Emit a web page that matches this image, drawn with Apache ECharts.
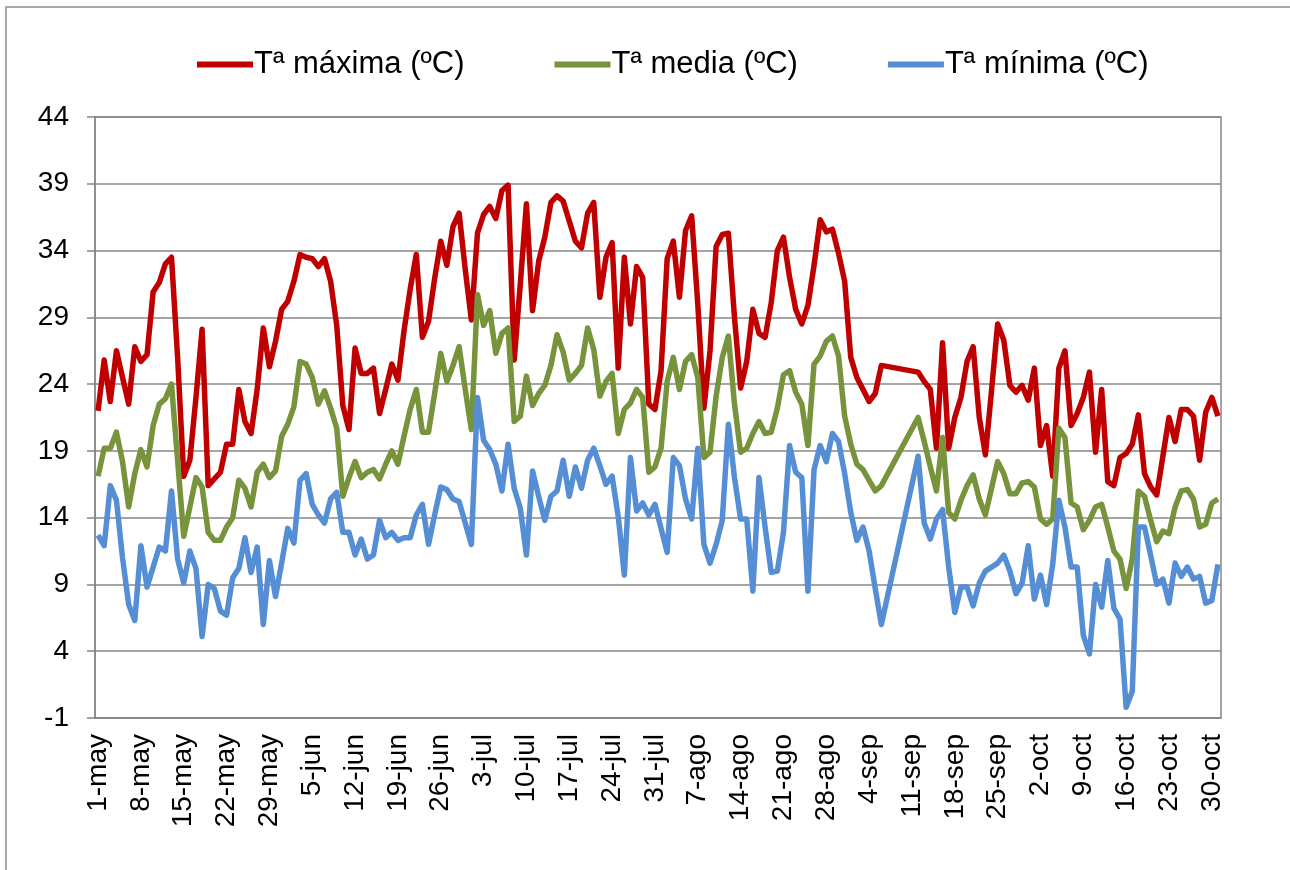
<!DOCTYPE html>
<html>
<head>
<meta charset="utf-8">
<script src="https://cdn.jsdelivr.net/npm/echarts@6/dist/echarts.min.js"></script>
<style>
  html, body { margin: 0; padding: 0; background: #fff; }
  #chart { width: 1290px; height: 870px; }
</style>
</head>
<body>
<div id="chart"></div>
<script>
// months of the period, for the category labels (1-may .. 31-oct)
const months = [["may", 31], ["jun", 30], ["jul", 31], ["ago", 31], ["sep", 30], ["oct", 31]];
const days = [];
months.forEach(([m, n]) => {
  for (let d = 1; d <= n; d++) days.push(d + "-" + m);
});

const yTicks = [-1, 4, 9, 14, 19, 24, 29, 34, 39, 44];

// daily values; null = no data (the line is joined across)
const tMax = [
  22.0, 25.8, 22.7, 26.5, 24.5, 22.5, 26.8, 25.7, 26.2, 30.9,
  31.6, 33.0, 33.5, 26.0, 17.1, 18.3, 23.0, 28.1, 16.4, 16.9,
  17.4, 19.5, 19.5, 23.6, 21.2, 20.3, 23.6, 28.2, 25.3, 27.2,
  29.6, 30.2, 31.7, 33.7, 33.5, 33.4, 32.8, 33.4, 31.7, 28.4,
  22.4, 20.6, 26.7, 24.8, 24.8, 25.2, 21.8, 23.6, 25.5, 24.3,
  28.0, 31.1, 33.7, 27.5, 28.7, 31.9, 34.7, 32.9, 35.8, 36.8,
  32.6, 28.8, 35.3, 36.7, 37.3, 36.4, 38.5, 38.9, 25.8, 31.5,
  37.5, 29.5, 33.2, 35.0, 37.6, 38.1, 37.7, 36.2, 34.7, 34.2,
  36.8, 37.6, 30.5, 33.5, 34.6, 25.2, 33.5, 28.5, 32.8, 32.0,
  22.5, 22.1, 25.0, 33.4, 34.7, 30.5, 35.5, 36.6, 30.0, 22.2,
  26.5, 34.3, 35.2, 35.3, 29.0, 23.7, 25.7, 29.6, 27.8, 27.5,
  30.1, 34.0, 35.0, 32.0, 29.6, 28.5, 29.9, 32.9, 36.3, 35.4,
  35.6, 33.8, 31.7, 26.0, 24.5, 23.6, 22.7, 23.3, 25.4, null,
  null, null, null, null, 24.9, 24.2, 23.6, 19.2, 27.1, 19.2,
  21.5, 23.0, 25.7, 26.8, 21.5, 18.7, 23.5, 28.5, 27.3, 23.9,
  23.4, 23.9, 22.8, 25.2, 19.4, 20.9, 17.1, 25.2, 26.5, 20.9,
  21.8, 23.0, 24.9, 18.9, 23.6, 16.7, 16.4, 18.5, 18.8, 19.5,
  21.7, 17.3, 16.3, 15.7, 18.6, 21.5, 19.7, 22.1, 22.1, 21.6,
  18.3, 21.9, 23.0, 21.6
];

const tMed = [
  17.1, 19.2, 19.2, 20.4, 18.2, 14.8, 17.3, 19.1, 17.8, 20.9,
  22.5, 22.9, 24.0, 18.3, 12.6, 14.8, 17.0, 16.3, 12.9, 12.3,
  12.3, 13.3, 14.0, 16.8, 16.2, 14.8, 17.4, 18.0, 17.0, 17.5,
  20.1, 21.0, 22.3, 25.7, 25.5, 24.5, 22.5, 23.5, 22.2, 20.7,
  15.6, 17.0, 18.2, 17.0, 17.4, 17.6, 16.9, 18.0, 19.0, 18.0,
  20.1, 22.1, 23.6, 20.4, 20.4, 23.3, 26.3, 24.2, 25.4, 26.8,
  23.6, 20.6, 30.7, 28.4, 29.5, 26.3, 27.8, 28.2, 21.2, 21.6,
  24.6, 22.4, 23.3, 23.9, 25.4, 27.7, 26.4, 24.3, 24.8, 25.4,
  28.2, 26.6, 23.1, 24.2, 24.8, 20.3, 22.1, 22.6, 23.6, 23.0,
  17.4, 17.8, 19.2, 24.2, 26.0, 23.6, 25.7, 26.2, 24.5, 18.5,
  18.9, 23.1, 26.0, 27.6, 22.5, 18.9, 19.2, 20.3, 21.2, 20.3,
  20.4, 22.2, 24.7, 25.0, 23.4, 22.5, 19.4, 25.5, 26.1, 27.2,
  27.6, 26.1, 21.6, 19.5, 18.0, 17.6, 16.8, 16.0, 16.4, null,
  null, null, null, null, 21.5, 19.7, 17.8, 16.0, 20.0, 14.4,
  13.9, 15.3, 16.4, 17.2, 15.4, 14.2, 16.2, 18.2, 17.3, 15.8,
  15.8, 16.6, 16.7, 16.3, 13.9, 13.5, 13.9, 20.7, 20.0, 15.1,
  14.8, 13.1, 13.8, 14.8, 15.0, 13.3, 11.5, 10.9, 8.7, 10.9,
  16.0, 15.6, 13.8, 12.2, 13.0, 12.8, 14.8, 16.0, 16.1, 15.4,
  13.3, 13.5, 15.1, 15.4
];

const tMin = [
  12.7, 11.9, 16.4, 15.3, 11.0, 7.5, 6.3, 11.9, 8.8, 10.3,
  11.8, 11.5, 16.0, 10.9, 9.1, 11.5, 10.2, 5.1, 9.0, 8.7,
  7.0, 6.7, 9.5, 10.2, 12.5, 9.9, 11.8, 6.0, 10.8, 8.1,
  10.6, 13.2, 12.1, 16.8, 17.3, 15.0, 14.2, 13.6, 15.4, 15.9,
  12.9, 12.9, 11.2, 12.4, 10.9, 11.2, 13.8, 12.5, 12.9, 12.3,
  12.5, 12.5, 14.2, 15.0, 12.0, 14.2, 16.3, 16.1, 15.4, 15.2,
  13.6, 12.0, 23.0, 19.8, 19.1, 18.0, 16.0, 19.5, 16.2, 14.7,
  11.2, 17.5, 15.6, 13.8, 15.6, 16.0, 18.3, 15.6, 17.8, 16.2,
  18.3, 19.2, 17.9, 16.5, 17.1, 14.1, 9.7, 18.5, 14.5, 15.1,
  14.2, 15.0, 13.2, 11.4, 18.5, 17.9, 15.4, 13.9, 19.2, 12.0,
  10.6, 12.0, 13.8, 21.0, 17.0, 13.9, 13.9, 8.5, 17.0, 13.3,
  9.9, 10.0, 12.9, 19.4, 17.4, 17.0, 8.5, 17.6, 19.4, 18.2,
  20.3, 19.7, 17.3, 14.4, 12.3, 13.3, 11.5, 8.7, 6.0, null,
  null, null, null, null, 18.6, 13.6, 12.4, 13.9, 14.6, 10.3,
  6.9, 8.8, 8.8, 7.4, 9.1, 10.0, 10.3, 10.6, 11.2, 10.0,
  8.3, 9.1, 11.9, 7.9, 9.7, 7.5, 10.5, 15.3, 13.3, 10.3,
  10.3, 5.2, 3.8, 9.0, 7.3, 10.8, 7.2, 6.4, -0.2, 1.0,
  13.3, 13.3, 11.2, 9.0, 9.4, 7.6, 10.6, 9.6, 10.3, 9.4,
  9.6, 7.6, 7.8, 10.5
];

const font = "'Liberation Sans', Arial, sans-serif";
const gridGray = "#878787";

var chartDom = document.getElementById("chart");
var myChart = echarts.init(chartDom);
var option;

function lineSeries(name, data, color) {
  return {
    name: name,
    type: "line",
    data: data,
    connectNulls: true,
    showSymbol: false,
    symbol: "none",
    animation: false,
    lineStyle: { color: color, width: 5.5, join: "round" },
    itemStyle: { color: color },
  };
}

option = {
  animation: false,
  graphic: [
    {
      type: "rect",
      shape: { x: 6, y: 7, width: 1320, height: 900 },
      style: { fill: "none", stroke: "#8e8e8e", lineWidth: 1.5 },
      silent: true,
    },
  ],
  legend: {
    left: 192,
    top: 44,
    itemWidth: 56,
    itemHeight: 6,
    itemGap: 90,
    icon: "rect",
    textStyle: { fontFamily: font, fontSize: 31, color: "#000", padding: [0, 0, 0, -4] },
  },
  grid: {
    left: 95,
    right: 69,
    top: 117,
    bottom: 152,
    show: true,
    borderColor: gridGray,
    borderWidth: 1.5,
  },
  xAxis: {
    type: "category",
    data: days,
    boundaryGap: true,
    axisLine: { onZero: false, lineStyle: { color: gridGray, width: 1.5 } },
    axisTick: { interval: 6, length: 6, lineStyle: { color: gridGray, width: 1.5 } },
    axisLabel: {
      interval: 6,
      rotate: 90,
      margin: 16,
      fontFamily: font,
      fontSize: 28,
      color: "#000",
    },
    splitLine: { show: false },
  },
  yAxis: {
    type: "value",
    min: -1,
    max: 44,
    axisLine: { show: true, lineStyle: { color: gridGray, width: 1.5 } },
    axisTick: { show: true, customValues: yTicks, length: 8, lineStyle: { color: gridGray, width: 1.5 } },
    axisLabel: {
      customValues: yTicks,
      margin: 26,
      fontFamily: font,
      fontSize: 28,
      color: "#000",
    },
    splitLine: { show: true, lineStyle: { color: gridGray, width: 1.5 } },
  },
  series: [
    lineSeries("Tª máxima (ºC)", tMax, "#C00000"),
    lineSeries("Tª media (ºC)", tMed, "#77933C"),
    lineSeries("Tª mínima (ºC)", tMin, "#558ED5"),
  ],
};

option && myChart.setOption(option);
</script>
</body>
</html>
